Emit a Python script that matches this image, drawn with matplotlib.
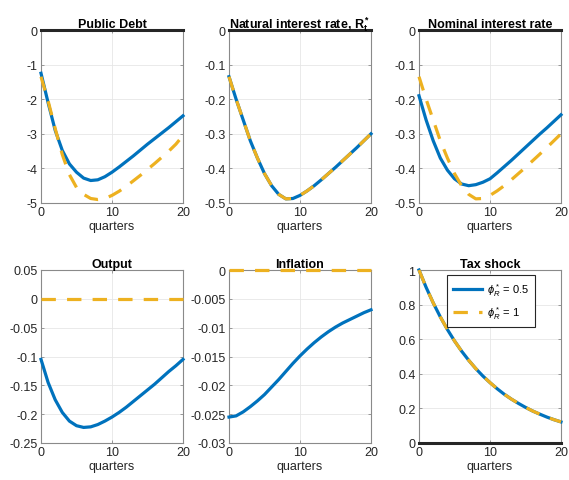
import matplotlib
matplotlib.use('Agg')
import matplotlib.pyplot as plt
from matplotlib.ticker import FuncFormatter

plt.rcParams['font.family'] = ['Liberation Sans', 'DejaVu Sans']
plt.rcParams['mathtext.fontset'] = 'custom'
plt.rcParams['mathtext.rm'] = 'Liberation Sans'
plt.rcParams['mathtext.it'] = 'Liberation Sans:italic'
plt.rcParams['mathtext.bf'] = 'Liberation Sans:bold'

# quarters 0..20
quarters = list(range(21))

# phi_R = 0.5 (blue) and phi_R = 1 (orange dashed)
debt_05 = [-1.25, -2.1, -2.9, -3.48, -3.87, -4.11, -4.28, -4.35, -4.33, -4.24, -4.11,
           -3.96, -3.8, -3.64, -3.47, -3.3, -3.14, -2.98, -2.82, -2.65, -2.48]
debt_1 = [-1.35, -2.05, -2.85, -3.6, -4.18, -4.55, -4.75, -4.87, -4.9, -4.87, -4.78,
          -4.66, -4.52, -4.36, -4.2, -4.03, -3.86, -3.68, -3.5, -3.3, -3.05]

natural = [-0.135, -0.2, -0.26, -0.32, -0.37, -0.415, -0.45, -0.475, -0.488, -0.487, -0.478,
           -0.465, -0.45, -0.433, -0.415, -0.397, -0.378, -0.359, -0.34, -0.32, -0.30]

nominal_05 = [-0.19, -0.26, -0.32, -0.37, -0.405, -0.43, -0.445, -0.45, -0.447, -0.44, -0.43,
              -0.413, -0.395, -0.377, -0.358, -0.339, -0.32, -0.301, -0.283, -0.264, -0.245]
nominal_1 = natural

output_05 = [-0.105, -0.145, -0.175, -0.197, -0.212, -0.22, -0.223, -0.222, -0.218, -0.212, -0.205,
             -0.197, -0.188, -0.178, -0.168, -0.158, -0.148, -0.137, -0.126, -0.116, -0.105]
output_1 = [0.0] * 21

infl_05 = [-0.0255, -0.0253, -0.0246, -0.0237, -0.0227, -0.0216, -0.0203, -0.019, -0.0176, -0.0162, -0.0149,
           -0.0137, -0.0126, -0.0116, -0.0107, -0.0099, -0.0092, -0.0086, -0.008, -0.0074, -0.0069]
infl_1 = [0.0] * 21

tax = [1.0, 0.9, 0.81, 0.729, 0.656, 0.59, 0.531, 0.478, 0.43, 0.387, 0.349,
       0.314, 0.282, 0.254, 0.229, 0.206, 0.185, 0.167, 0.15, 0.135, 0.122]

panels = [
    ('Public Debt', debt_05, debt_1, (-5, 0), [-5, -4, -3, -2, -1, 0], True),
    ('Natural interest rate, $\\mathbf{R_t^*}$', natural, natural, (-0.5, 0), [-0.5, -0.4, -0.3, -0.2, -0.1, 0], True),
    ('Nominal interest rate', nominal_05, nominal_1, (-0.5, 0), [-0.5, -0.4, -0.3, -0.2, -0.1, 0], True),
    ('Output', output_05, output_1, (-0.25, 0.05), [-0.25, -0.2, -0.15, -0.1, -0.05, 0, 0.05], False),
    ('Inflation', infl_05, infl_1, (-0.03, 0), [-0.03, -0.025, -0.02, -0.015, -0.01, -0.005, 0], False),
    ('Tax shock', tax, tax, (0, 1), [0, 0.2, 0.4, 0.6, 0.8, 1], True),
]

blue = '#0072BD'
orange = '#EDB120'

fig = plt.figure(figsize=(5.69, 4.81), dpi=100)
lefts = [41/569, 229/569, 419/569]
bottoms = [1 - 204/481, 1 - 444/481]
w = 142/569
h = 173/481

fmt = FuncFormatter(lambda v, p: ('%g' % round(v, 6)))

for i, (title, y1, y2, ylim, yticks, zero_line) in enumerate(panels):
    ax = fig.add_axes([lefts[i % 3], bottoms[i // 3], w, h])
    if zero_line:
        ax.plot(quarters, [0] * 21, color='#262626', lw=2.2, zorder=3, clip_on=False)
    l1, = ax.plot(quarters, y1, color=blue, lw=2.3, zorder=4, clip_on=False)
    l2, = ax.plot(quarters, y2, color=orange, lw=2.3, ls=(0, (4.5, 3.5)), zorder=5, clip_on=False)
    ax.set_xlim(0, 20)
    ax.set_ylim(*ylim)
    ax.set_xticks([0, 10, 20])
    ax.set_yticks(yticks)
    ax.yaxis.set_major_formatter(fmt)
    ax.grid(True, color='#e6e6e6', lw=0.6)
    ax.set_axisbelow(True)
    for s in ax.spines.values():
        s.set_color('#8a8a8a')
        s.set_linewidth(0.8)
    ax.tick_params(direction='in', length=2.5, width=0.6, color='#8a8a8a',
                   labelsize=9, labelcolor='#262626', top=True, right=True, pad=2.5)
    ax.set_title(title, fontsize=9, fontweight='bold', pad=2)
    ax.set_xlabel('quarters', fontsize=9, color='#262626', labelpad=1)
    if i == 5:
        leg = ax.legend([l1, l2], ['$\\phi_R^*$ = 0.5', '$\\phi_R^*$ = 1'],
                        loc='upper right', bbox_to_anchor=(0.82, 0.97), borderaxespad=0,
                        fontsize=8, fancybox=False, framealpha=1, edgecolor='#262626',
                        handlelength=2.6, handletextpad=0.5, borderpad=0.5, labelspacing=0.6)
        leg.get_frame().set_linewidth(0.8)

fig.savefig('out.png', dpi=100)
